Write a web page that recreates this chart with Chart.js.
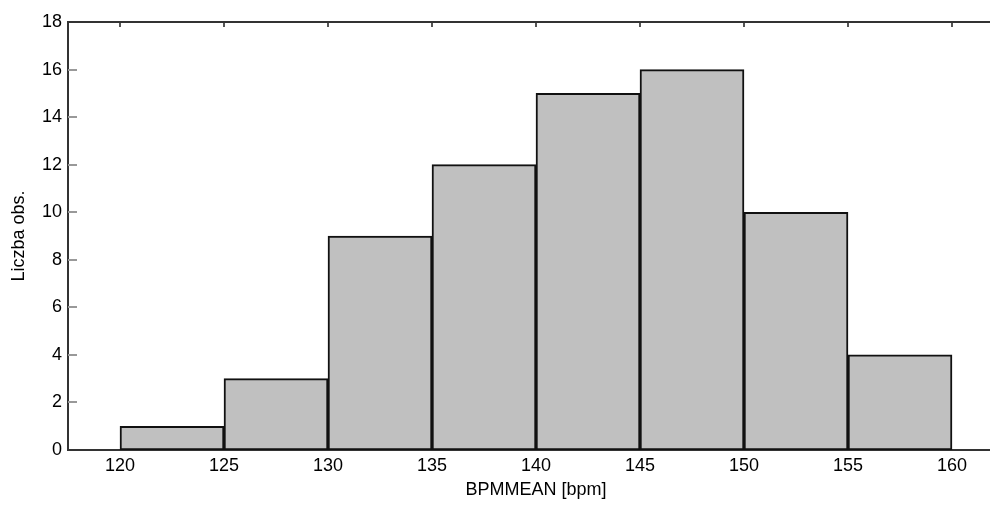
<!DOCTYPE html>
<html>
<head>
<meta charset="utf-8">
<script src="https://cdn.jsdelivr.net/npm/chart.js@4/dist/chart.umd.min.js"></script>
<style>
    html, body { margin: 0; padding: 0; background: #fff; overflow: hidden; }
    #wrap { width: 990px; height: 505px; overflow: hidden; }
    #wrap canvas { display: block; }
</style>
</head>
<body>
<div id="wrap"><canvas id="histChart" width="1010" height="505"></canvas></div>
<script>
// bin centres (BPMMEAN, 5 bpm wide) and counts
const binCenters = [122.5, 127.5, 132.5, 137.5, 142.5, 147.5, 152.5, 157.5];
const counts = [1, 3, 9, 12, 15, 16, 10, 4];
const xTicks = [120, 125, 130, 135, 140, 145, 150, 155, 160];
const yTicks = [0, 2, 4, 6, 8, 10, 12, 14, 16, 18];

const FONT = { family: '"Liberation Sans", Arial, sans-serif', size: 18 };

// matlab style frame: top line plus short inward ticks
const framePlugin = {
    id: 'frame',
    afterDatasetsDraw: (chart) => {
        const ctx = chart.ctx;
        const a = chart.chartArea;
        const x = chart.scales.x, y = chart.scales.y;
        ctx.save();
        ctx.strokeStyle = '#999';
        ctx.lineWidth = 2;
        yTicks.forEach(v => {
            const py = Math.round(y.getPixelForValue(v));
            if (v === 0 || v === 18) return;
            ctx.beginPath();
            ctx.moveTo(a.left, py);
            ctx.lineTo(a.left + 9, py);
            ctx.stroke();
        });
        ctx.strokeStyle = '#555';
        xTicks.forEach(v => {
            const px = Math.round(x.getPixelForValue(v));
            ctx.beginPath();
            ctx.moveTo(px, a.top);
            ctx.lineTo(px, a.top + 5);
            ctx.stroke();
        });
        ctx.strokeStyle = '#333';
        ctx.lineWidth = 2;
        ctx.beginPath();
        ctx.moveTo(a.left, a.top);
        ctx.lineTo(a.right, a.top);
        ctx.stroke();
        ctx.restore();
    }
};

const chart = new Chart(document.getElementById('histChart'), {
    type: 'bar',
    data: {
        datasets: [{
            data: binCenters.map((c, i) => ({ x: c, y: counts[i] })),
            backgroundColor: '#c0c0c0',
            borderColor: '#111',
            borderWidth: 2,
            borderSkipped: false,
            barPercentage: 1,
            categoryPercentage: 1
        }]
    },
    options: {
        responsive: false,
        animation: false,
        layout: { padding: { left: 0, top: 22, right: 6, bottom: 0 } },
        plugins: { legend: { display: false }, tooltip: { enabled: false } },
        scales: {
            x: {
                type: 'linear',
                offset: false,
                min: 117.5,
                max: 162.5,
                afterBuildTicks: (s) => { s.ticks = xTicks.map(v => ({ value: v })); },
                afterFit: (s) => { s.height = 55; },
                grid: { display: false, drawTicks: false, offset: false },
                border: { display: true, color: '#333', width: 2 },
                ticks: { color: '#000', font: FONT, padding: 5, maxRotation: 0, autoSkip: false },
                title: { display: true, text: 'BPMMEAN [bpm]', color: '#000', font: FONT, padding: { top: 2 } }
            },
            y: {
                min: 0,
                max: 18,
                afterBuildTicks: (s) => { s.ticks = yTicks.map(v => ({ value: v })); },
                afterFit: (s) => { s.width = 68; },
                grid: { display: false, drawTicks: false },
                border: { display: true, color: '#333', width: 2 },
                ticks: { color: '#000', font: FONT, padding: 6, autoSkip: false },
                title: { display: true, text: 'Liczba obs.', color: '#000', font: FONT, padding: { top: 8, bottom: 2 } }
            }
        }
    },
    plugins: [framePlugin]
});
</script>
</body>
</html>
